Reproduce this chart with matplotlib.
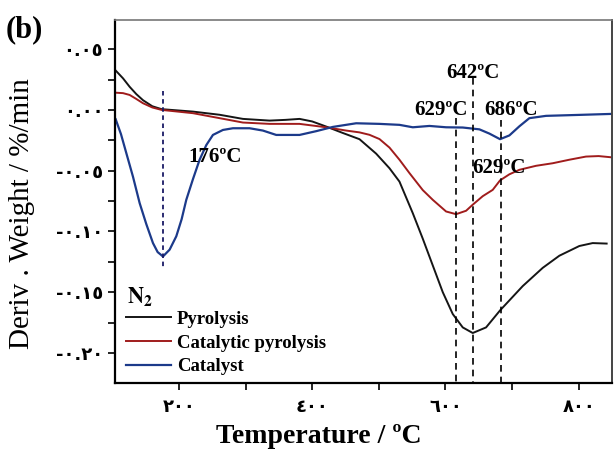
import numpy as np
import matplotlib
matplotlib.use('Agg')
import matplotlib.pyplot as plt
from matplotlib.ticker import FixedLocator, MultipleLocator, FixedFormatter

# 数据
T_pyro = [104, 116, 126, 136, 146, 160, 174, 200, 221, 261, 296, 336, 360, 381, 400, 421,
          446, 471, 496, 516, 531, 551, 566, 581, 596, 611, 626, 641, 661, 682, 716, 746,
          771, 801, 821, 842]
pyro = [0.033, 0.026, 0.019, 0.013, 0.008, 0.003, 0.0006, -0.0005, -0.0014, -0.004, -0.0074,
        -0.0088, -0.0082, -0.0074, -0.0095, -0.0137, -0.019, -0.0241, -0.036, -0.048, -0.059,
        -0.085, -0.106, -0.128, -0.150, -0.168, -0.179, -0.1836, -0.179, -0.165, -0.145,
        -0.130, -0.120, -0.112, -0.1096, -0.110]

T_cat_pyro = [104, 116, 126, 136, 146, 160, 174, 221, 261, 296, 336, 381, 421, 451, 471, 486,
              501, 516, 531, 546, 566, 581, 601, 616, 631, 641, 656, 671, 682, 696, 711, 736,
              761, 786, 811, 830, 849]
cat_pyro = [0.0142, 0.0138, 0.0123, 0.009, 0.0055, 0.002, 0.0, -0.0027, -0.0068, -0.0104,
            -0.0115, -0.0115, -0.0143, -0.017, -0.0185, -0.0205, -0.024, -0.031, -0.041, -0.052,
            -0.066, -0.074, -0.0836, -0.0858, -0.083, -0.078, -0.071, -0.0658, -0.058, -0.053,
            -0.0493, -0.046, -0.0439, -0.041, -0.0384, -0.038, -0.039]

T_cat = [105, 113, 121, 131, 141, 151, 161, 168, 176, 186, 196, 204, 211, 221, 231, 241, 251,
         266, 281, 306, 326, 346, 381, 406, 431, 466, 501, 531, 551, 576, 601, 626, 651, 666,
         682, 696, 711, 726, 751, 801, 849]
cat = [-0.0077, -0.02, -0.0356, -0.055, -0.0767, -0.094, -0.1096, -0.117, -0.1206, -0.115,
       -0.104, -0.09, -0.074, -0.057, -0.041, -0.029, -0.0206, -0.0165, -0.0151, -0.0151,
       -0.017, -0.0206, -0.0206, -0.0175, -0.014, -0.011, -0.0115, -0.0123, -0.0143, -0.0132,
       -0.0143, -0.0145, -0.016, -0.0195, -0.0241, -0.021, -0.0135, -0.0068, -0.0049, -0.0041,
       -0.0033]

# 峰值竖线: (x, 上端y)
peak_x = [176, 616, 641, 683]
peak_top = [0.0156, -0.0066, 0.0263, -0.0082]

yticks = [0.05, 0.0, -0.05, -0.10, -0.15, -0.20]
ytick_labels = ['٠.٠٥', '٠.٠٠', '-٠.٠٥', '-٠.١٠', '-٠.١٥', '-٠.٢٠']
xticks = [200, 400, 600, 800]
xtick_labels = ['٢٠٠', '٤٠٠', '٦٠٠', '٨٠٠']

serif = ['Liberation Serif', 'DejaVu Serif']
plt.rcParams['mathtext.fontset'] = 'stix'

fig = plt.figure(figsize=(6.14, 4.50), dpi=100)
ax = fig.add_axes([0.1873, 0.149, 0.8094, 0.8066])

ax.plot(T_pyro, pyro, color='#151515', lw=1.4, label='Pyrolysis')
ax.plot(T_cat_pyro, cat_pyro, color='#a01c1c', lw=1.4, label='Catalytic pyrolysis')
ax.plot(T_cat, cat, color='#1c3a8a', lw=1.6, label='Catalyst')

ymin, ymax = -0.2247, 0.074
ax.set_xlim(104, 850)
ax.set_ylim(ymin, ymax)

# 竖直虚线
ax.plot([peak_x[0], peak_x[0]], [peak_top[0], -0.130], color='#1a1a66', lw=1.3, ls=(0, (2.5, 2)))
for x, yt in zip(peak_x[1:], peak_top[1:]):
    ax.plot([x, x], [yt, ymin], color='black', lw=1.2, ls=(0, (4, 3)))

tfont = dict(family=serif, fontweight='bold', fontsize=15)
ax.text(254, -0.0387, '176ºC', ha='center', va='center', **tfont)
ax.text(641, 0.0304, '642ºC', ha='center', va='center', **tfont)
ax.text(593, 0.0, '629ºC', ha='center', va='center', **tfont)
ax.text(698, 0.0, '686ºC', ha='center', va='center', **tfont)
ax.text(681, -0.0477, '629ºC', ha='center', va='center', **tfont)
ax.text(141, -0.154, r'$\mathbf{N_2}$', ha='center', va='center', fontsize=16)

leg = ax.legend(loc='lower left', bbox_to_anchor=(0.0, -0.01), frameon=False,
                prop=dict(family=serif, weight='bold', size=13.5),
                handlelength=2.4, handletextpad=0.3, labelspacing=0.35,
                borderaxespad=0.2)

ax.xaxis.set_major_locator(FixedLocator(xticks))
ax.xaxis.set_major_formatter(FixedFormatter(xtick_labels))
ax.xaxis.set_minor_locator(MultipleLocator(100))
ax.yaxis.set_major_locator(FixedLocator(yticks))
ax.yaxis.set_major_formatter(FixedFormatter(ytick_labels))
ax.yaxis.set_minor_locator(MultipleLocator(0.025))
ax.tick_params(which='both', direction='out', length=5, width=1.2)
ax.tick_params(axis='x', pad=6)
for lab in ax.get_xticklabels() + ax.get_yticklabels():
    lab.set_family('DejaVu Sans')
    lab.set_fontweight('bold')
    lab.set_fontsize(13)

for s in ['left', 'bottom']:
    ax.spines[s].set_linewidth(1.6)
ax.spines['top'].set_color('#777777')
ax.spines['right'].set_color('#444444')
ax.spines['top'].set_linewidth(1.2)
ax.spines['right'].set_linewidth(1.4)

ax.set_xlabel('Temperature / ºC', family=serif, fontweight='bold', fontsize=20)
ax.xaxis.set_label_coords(0.41, -0.112)
ax.set_ylabel('Deriv . Weight / %/min', family=serif, fontsize=21)
ax.yaxis.set_label_coords(-0.16, 0.468)

fig.text(0.04, 0.933, '(b)', family=serif, fontweight='bold', fontsize=22,
         ha='center', va='center')

fig.savefig('out.png', dpi=100)
